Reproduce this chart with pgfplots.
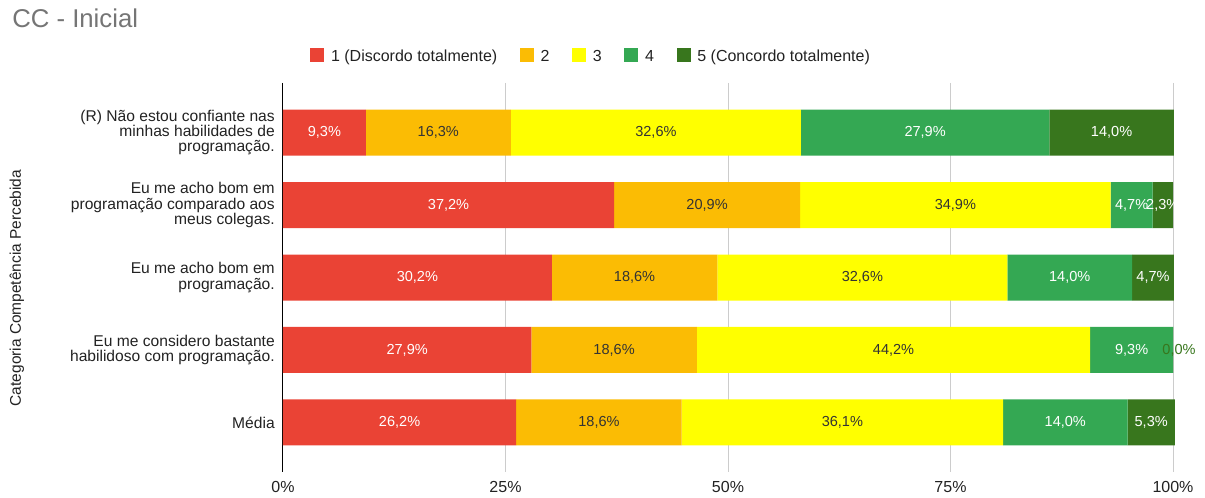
\documentclass[border=0pt]{standalone}
\usepackage{pgfplots}
\pgfplotsset{compat=1.18}
\usepackage{pgfplotstable}
\usepackage{fontspec}
\setmainfont{Liberation Sans}
\definecolor{c1}{HTML}{EA4335}
\definecolor{c2}{HTML}{FBBC04}
\definecolor{c3}{HTML}{FFFF00}
\definecolor{c4}{HTML}{34A853}
\definecolor{c5}{HTML}{38761D}
\definecolor{txt}{HTML}{222222}
\definecolor{ttl}{HTML}{757575}
\definecolor{grd}{HTML}{CCCCCC}
\pgfplotstableread{
y v1 v2 v3 v4 v5
0 9.3 16.3 32.6 27.9 14.0
1 37.2 20.9 34.9 4.7 2.3
2 30.2 18.6 32.6 14.0 4.7
3 27.9 18.6 44.2 9.3 0.001
4 26.2 18.6 36.1 14.0 5.3
}\datatable
\pgfplotsset{
  sq/.style={legend image code/.code={\fill[##1] (0pt,-3.75pt) rectangle (10.5pt,6.75pt);}},
  lbl/.style={
    nodes near coords={\ifdim\myv pt<0.05pt\color{c5}\fi\pgfmathprintnumber[fixed,fixed zerofill,precision=1,use comma]{\pgfplotspointmeta}\%},
    every node near coord/.append style={/utils/exec={\pgfmathfloattofixed{\pgfplotspointmeta}\global\let\myv\pgfmathresult},
      anchor=center, xshift={(\myv<0.05)*4.5pt}, text=#1, font=\fontsize{10.9}{12}\selectfont, inner sep=0pt}},
}
\begin{document}
\begin{tikzpicture}
\useasboundingbox (-212.25pt,-18.75pt) rectangle (691.5pt,354pt);
\begin{axis}[
  at={(0,0)}, anchor=south west,
  scale only axis, width=667.5pt, height=291.75pt,
  xbar stacked, bar width=34.5pt,
  xmin=0, xmax=100, ymin=-0.685, ymax=4.685, y dir=reverse,
  point meta=explicit,
  xtick={0,25,50,75,100}, xticklabels={0\%,25\%,50\%,75\%,100\%},
  ytick={0,1,2,3,4},
  yticklabels={{(R) Não estou confiante nas\\minhas habilidades de\\programação.},
               {Eu me acho bom em\\programação comparado aos\\meus colegas.},
               {Eu me acho bom em\\programação.},
               {Eu me considero bastante\\habilidoso com programação.},
               {Média}},
  major tick length=0pt, tick style={draw=none},
  xmajorgrids, grid style={grd, line width=0.75pt},
  extra x ticks={0}, extra x tick labels={},
  extra x tick style={grid style={black, line width=0.75pt}},
  axis line style={draw=none},
  clip=false,
  /pgf/number format/assume math mode=true,
  xticklabel style={font=\fontsize{12}{14}\selectfont, text=txt, inner sep=0pt, anchor=north, yshift=-6.75pt},
  yticklabel style={font=\fontsize{11.7}{11.5}\selectfont, text=txt, inner sep=0pt, anchor=east, align=right, xshift=-6pt},
  ylabel={Categoria Competência Percebida},
  ylabel style={at={(axis description cs:-0.299,0.473)}, anchor=center, font=\fontsize{11.6}{13}\selectfont, text=txt},
  title={CC - Inicial},
  title style={at={(axis description cs:-0.3045,1.146)}, anchor=west, inner sep=0pt, font=\fontsize{19.3}{22}\selectfont, text=ttl},
  legend columns=5,
  legend style={at={(axis description cs:0.3466,1.067)}, anchor=center, draw=none, fill=none,
    font=\fontsize{12}{14}\selectfont, text=txt,
    /tikz/every odd column/.append style={column sep=3pt},
    /tikz/every even column/.append style={column sep=15pt}},
]
\addplot[fill=c1, draw=none, sq, lbl=white] table[x=v1, y=y, meta=v1]{\datatable};
\addlegendentry{1 (Discordo totalmente)}
\addplot[fill=c2, draw=none, sq, lbl=black!80] table[x=v2, y=y, meta=v2]{\datatable};
\addlegendentry{2}
\addplot[fill=c3, draw=none, sq, lbl=black!80] table[x=v3, y=y, meta=v3]{\datatable};
\addlegendentry{3}
\addplot[fill=c4, draw=none, sq, lbl=white] table[x=v4, y=y, meta=v4]{\datatable};
\addlegendentry{4}
\addplot[fill=c5, draw=none, sq, lbl=white] table[x=v5, y=y, meta=v5]{\datatable};
\addlegendentry{5 (Concordo totalmente)}
\end{axis}
\end{tikzpicture}
\end{document}
